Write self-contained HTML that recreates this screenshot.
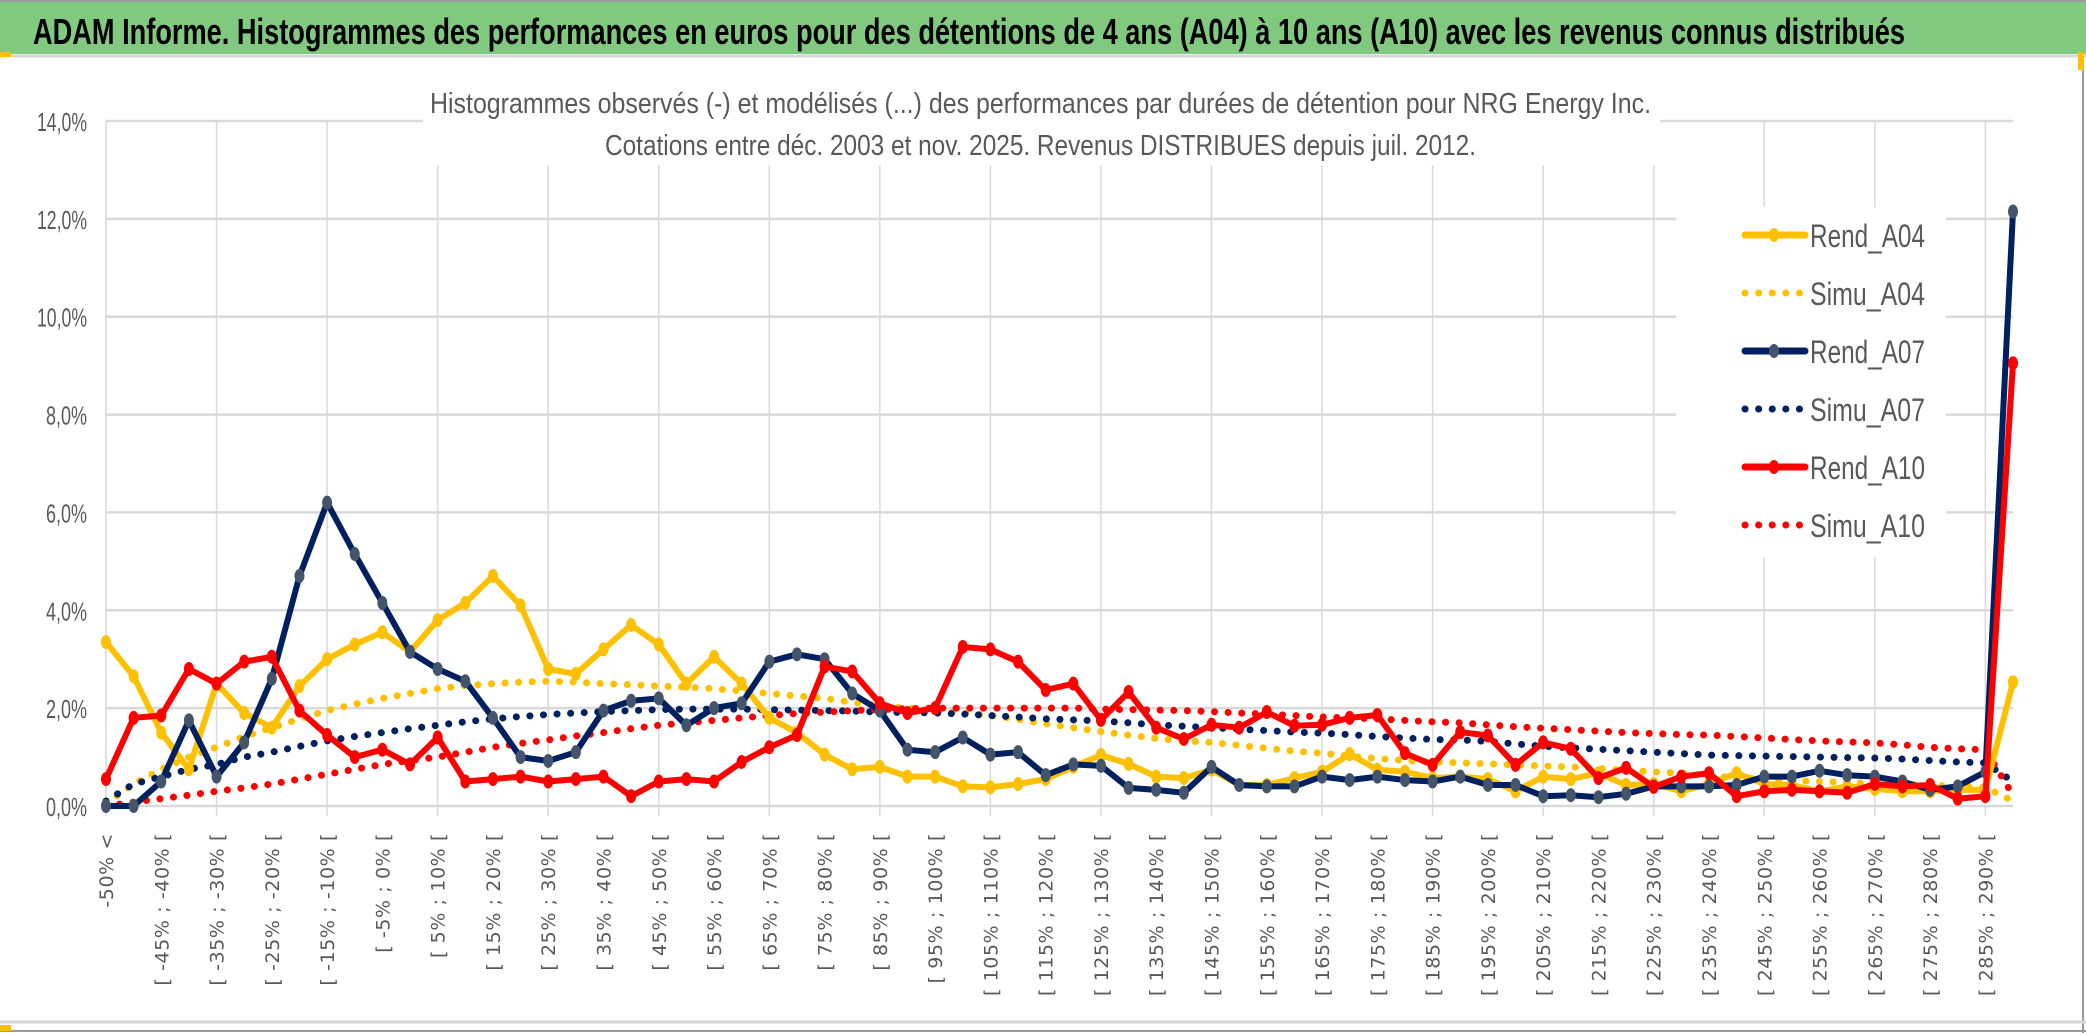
<!DOCTYPE html>
<html><head><meta charset="utf-8"><style>
html,body{margin:0;padding:0;background:#fff;width:2086px;height:1033px;overflow:hidden}
svg{display:block}
</style></head><body>
<svg id="chart" width="2086" height="1033" viewBox="0 0 2086 1033" xmlns="http://www.w3.org/2000/svg">
<rect x="0" y="0" width="2086" height="1033" fill="#fff"/>
<rect x="0" y="2" width="2086" height="52" fill="#80C97F"/>
<line x1="0" y1="1" x2="2086" y2="1" stroke="#9a9a9a" stroke-width="2"/>
<line x1="0" y1="56" x2="2086" y2="56" stroke="#d6d6d6" stroke-width="3"/>
<line x1="2083" y1="56" x2="2083" y2="1033" stroke="#9a9a9a" stroke-width="2"/>
<line x1="0" y1="1022" x2="2086" y2="1022" stroke="#d6d6d6" stroke-width="3"/>
<line x1="0" y1="1031" x2="2086" y2="1031" stroke="#9a9a9a" stroke-width="2"/>
<rect x="0" y="52" width="11" height="5" fill="#FFC000"/>
<rect x="0" y="1025" width="11" height="6" fill="#FFC000"/>
<rect x="2078" y="52" width="6" height="18" fill="#FFC000"/>
<text x="33" y="44" font-family="Liberation Sans, sans-serif" font-weight="bold" font-size="36" textLength="1872" lengthAdjust="spacingAndGlyphs" fill="#000">ADAM Informe. Histogrammes des performances en euros pour des détentions de 4 ans (A04) à 10 ans (A10) avec les revenus connus distribués</text>
<g id="grid"></g>
<g id="series"></g>
<rect x="423" y="88" width="1237" height="77" fill="#fff"/>
<text x="430" y="113" font-family="Liberation Sans, sans-serif" font-size="29" textLength="1221" lengthAdjust="spacingAndGlyphs" fill="#595959">Histogrammes observés (-) et modélisés (...) des performances par durées de détention pour NRG Energy Inc.</text>
<text x="605" y="155" font-family="Liberation Sans, sans-serif" font-size="29" textLength="871" lengthAdjust="spacingAndGlyphs" fill="#595959">Cotations entre déc. 2003 et nov. 2025. Revenus DISTRIBUES depuis juil. 2012.</text>
<g id="legend"></g>
<g id="xlabels"></g>
<g id="ylabels"></g>
</svg>
<script>
const rendA04 = [3.35,2.65,1.5,0.75,2.5,1.9,1.6,2.45,3.0,3.3,3.55,3.15,3.8,4.15,4.7,4.1,2.8,2.7,3.2,3.7,3.3,2.5,3.05,2.5,1.8,1.5,1.05,0.75,0.8,0.6,0.6,0.4,0.38,0.45,0.55,0.8,1.04,0.86,0.6,0.57,0.74,0.43,0.43,0.57,0.7,1.06,0.74,0.7,0.57,0.6,0.55,0.3,0.6,0.55,0.67,0.43,0.45,0.3,0.45,0.67,0.45,0.43,0.3,0.4,0.35,0.3,0.3,0.33,0.33,2.53];
const simuA04 = [0.05,0.45,0.75,1.0,1.2,1.42,1.6,1.78,1.95,2.08,2.2,2.3,2.4,2.46,2.5,2.53,2.55,2.53,2.5,2.48,2.45,2.43,2.4,2.35,2.3,2.25,2.2,2.12,2.05,2.0,1.95,1.9,1.85,1.77,1.68,1.6,1.52,1.45,1.38,1.33,1.3,1.24,1.18,1.12,1.08,1.02,0.97,0.93,0.9,0.88,0.86,0.84,0.82,0.8,0.77,0.73,0.7,0.67,0.62,0.58,0.55,0.52,0.5,0.48,0.46,0.44,0.42,0.4,0.38,0.1];
const rendA07 = [0.0,0.0,0.5,1.75,0.6,1.3,2.6,4.7,6.2,5.15,4.15,3.15,2.8,2.55,1.8,1.0,0.92,1.1,1.95,2.15,2.2,1.65,2.0,2.1,2.95,3.1,3.0,2.3,1.95,1.15,1.1,1.4,1.05,1.1,0.63,0.85,0.82,0.37,0.33,0.27,0.8,0.43,0.4,0.4,0.6,0.53,0.6,0.53,0.5,0.6,0.43,0.43,0.2,0.22,0.18,0.25,0.4,0.4,0.4,0.43,0.6,0.6,0.72,0.63,0.6,0.5,0.33,0.4,0.7,12.15];
const simuA07 = [0.1,0.45,0.6,0.75,0.85,1.0,1.1,1.22,1.33,1.42,1.5,1.58,1.65,1.72,1.78,1.83,1.87,1.9,1.93,1.95,1.97,1.98,1.98,1.98,1.97,1.96,1.95,1.94,1.92,1.91,1.9,1.88,1.85,1.82,1.78,1.76,1.74,1.7,1.66,1.63,1.6,1.57,1.54,1.51,1.49,1.46,1.42,1.39,1.36,1.35,1.32,1.27,1.22,1.19,1.16,1.13,1.1,1.07,1.04,1.03,1.02,1.01,1.0,0.99,0.98,0.96,0.93,0.9,0.88,0.5];
const rendA10 = [0.55,1.8,1.85,2.8,2.5,2.95,3.05,1.95,1.45,1.0,1.15,0.85,1.4,0.5,0.55,0.6,0.5,0.55,0.6,0.2,0.5,0.55,0.5,0.9,1.2,1.45,2.85,2.75,2.1,1.9,2.0,3.25,3.2,2.95,2.37,2.5,1.76,2.33,1.6,1.37,1.66,1.6,1.92,1.64,1.66,1.8,1.86,1.08,0.84,1.51,1.44,0.84,1.3,1.17,0.57,0.78,0.39,0.6,0.67,0.2,0.3,0.33,0.3,0.27,0.45,0.4,0.43,0.15,0.2,9.05];
const simuA10 = [0.0,0.08,0.15,0.22,0.3,0.37,0.45,0.55,0.65,0.75,0.85,0.93,1.0,1.1,1.2,1.28,1.35,1.43,1.5,1.58,1.65,1.7,1.75,1.8,1.85,1.89,1.92,1.95,1.97,1.99,2.0,2.0,2.0,2.0,2.0,2.0,1.98,1.97,1.96,1.95,1.93,1.9,1.88,1.85,1.82,1.8,1.78,1.75,1.72,1.7,1.66,1.62,1.59,1.56,1.53,1.5,1.48,1.46,1.45,1.42,1.39,1.36,1.33,1.31,1.29,1.25,1.2,1.17,1.15,0.22];
const yTicks = [0,2,4,6,8,10,12,14];
const yTickLabels = ["0,0%","2,0%","4,0%","6,0%","8,0%","10,0%","12,0%","14,0%"];
const seriesNames = ["Rend_A04","Simu_A04","Rend_A07","Simu_A07","Rend_A10","Simu_A10"];
const categories = [];
categories.push("-50% <");
for (let i = 1; i < 70; i++) { categories.push("[ " + (-50 + 5 * (i - 1)) + "% ; " + (-45 + 5 * (i - 1)) + "% ["); }

const NS = "http://www.w3.org/2000/svg";
const X0 = 106, X1 = 2013, Y0 = 806, YTOP = 121, YMAX = 14;
const n = categories.length;
function xScale(i) { return X0 + (X1 - X0) * i / (n - 1); }
function yScale(v) { return Y0 - (Y0 - YTOP) * v / YMAX; }
function mk(tag, attrs, parent) { const e = document.createElementNS(NS, tag); for (const k in attrs) e.setAttribute(k, attrs[k]); parent.appendChild(e); return e; }

const grid = document.getElementById("grid");
for (let i = 0; i < n; i += 4) {
  const l = mk("line", {x1: xScale(i), x2: xScale(i), y1: YTOP, y2: Y0 + 10, stroke: "#D9D9D9", "stroke-width": 1.5}, grid);
  
  
}
const ylab = document.getElementById("ylabels");
yTicks.forEach((t, k) => {
  const l = mk("line", {x1: X0, x2: X1, y1: yScale(t), y2: yScale(t), stroke: "#D9D9D9", "stroke-width": 2.5}, grid);
  
  
  const tx = mk("text", {x: 87, y: yScale(t) + 10, "text-anchor": "end", "font-family": "Liberation Sans, sans-serif", "font-size": 26, fill: "#595959", textLength: yTickLabels[k].length > 4 ? 50 : 41, lengthAdjust: "spacingAndGlyphs"}, ylab);
  tx.textContent = yTickLabels[k];
  
  
});
const xl = document.getElementById("xlabels");
for (let i = 0; i < n; i += 2) {
  const x = xScale(i) + 7, y = 833;
  const tx = mk("text", {x: x, y: y, transform: "rotate(-90 " + x + " " + y + ")", "text-anchor": "end", "font-family": "DejaVu Sans, sans-serif", "font-size": 19, "letter-spacing": "0.6", fill: "#595959"}, xl);
  tx.textContent = categories[i];
  
  
}

const series = document.getElementById("series");
function pts(arr) { return arr.map((v, i) => xScale(i).toFixed(1) + "," + yScale(v).toFixed(1)).join(" "); }
function dotted(arr, color, name) {
  const p = mk("polyline", {points: pts(arr), fill: "none", stroke: color, "stroke-width": 7, "stroke-linecap": "round", "stroke-dasharray": "0.1 13.5"}, series);
  
  
}
function solid(arr, color, mcol, name) {
  const p = mk("polyline", {points: pts(arr), fill: "none", stroke: color, "stroke-width": 6, "stroke-linejoin": "round"}, series);
  
  
  arr.forEach((v, i) => {
    const c = mk("ellipse", {cx: xScale(i), cy: yScale(v), rx: 5, ry: 7, fill: mcol}, series);
    
    
  });
}
dotted(simuA04, "#FFC000", "simu-a04-line");
dotted(simuA07, "#002060", "simu-a07-line");
dotted(simuA10, "#FF0000", "simu-a10-line");
solid(rendA04, "#FFC000", "#FFC000", "rend-a04-line");
solid(rendA07, "#002060", "#44546A", "rend-a07-line");
solid(rendA10, "#FF0000", "#FF0000", "rend-a10-line");

const leg = document.getElementById("legend");
const lbg = mk("rect", {x: 1676, y: 207, width: 270, height: 350, fill: "#fff"}, leg);


const legColors = ["#FFC000","#FFC000","#002060","#002060","#FF0000","#FF0000"];
const legMarker = ["#FFC000","#FFC000","#44546A","#44546A","#FF0000","#FF0000"];
seriesNames.forEach((s, k) => {
  const y = 235 + k * 58;
  if (k % 2 === 0) {
    const l = mk("line", {x1: 1745, x2: 1805, y1: y, y2: y, stroke: legColors[k], "stroke-width": 7, "stroke-linecap": "round"}, leg);
    
    
    const c = mk("ellipse", {cx: 1774, cy: y, rx: 5, ry: 7, fill: legMarker[k]}, leg);
    
    
  } else {
    const l = mk("line", {x1: 1745, x2: 1800, y1: y, y2: y, stroke: legColors[k], "stroke-width": 7, "stroke-linecap": "round", "stroke-dasharray": "0.1 13.5"}, leg);
    
    
  }
  const t = mk("text", {x: 1810, y: y + 12, "font-family": "Liberation Sans, sans-serif", "font-size": 32, fill: "#595959", textLength: 115, lengthAdjust: "spacingAndGlyphs"}, leg);
  t.textContent = s;
  
  
});
</script>
</body></html>
